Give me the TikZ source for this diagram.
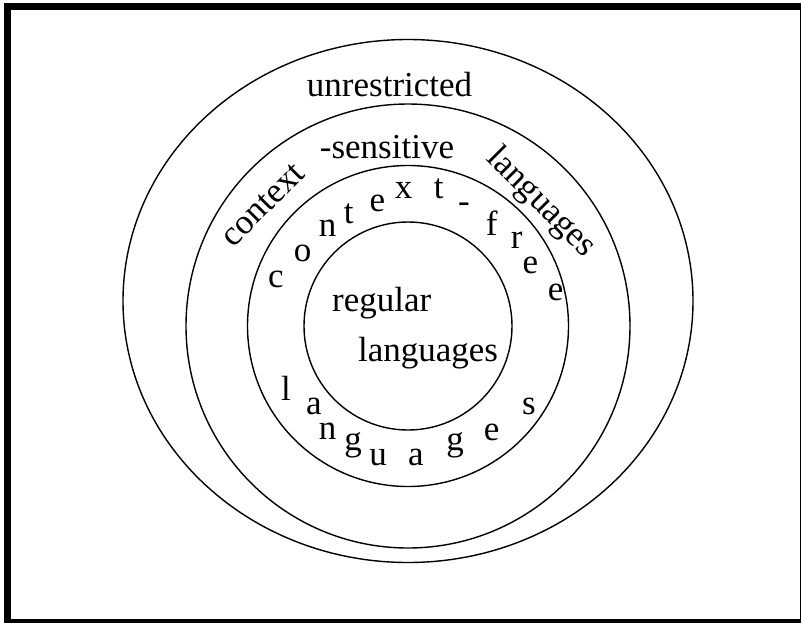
\documentclass[tikz,border=0pt]{standalone}
\usepackage{fontspec}
\setmainfont{Liberation Serif}
\usetikzlibrary{positioning}
\tikzset{
  ring/.style={line width=1.4pt},
  word/.style={font=\fontsize{35}{40}\selectfont, inner sep=0pt},
}

\begin{document}
\begin{tikzpicture}[x=1pt,y=-1pt]
\useasboundingbox (0,0) rectangle (801,622);
\draw[line width=7pt] (7.5,6.7) rectangle (803,622);

\coordinate (mid) at (408,326);
\draw[ring] (408,301) ellipse [x radius=285, y radius=261.5];
\draw[ring] (mid) circle [radius=222];
\draw[ring] (mid) circle [radius=160.5];
\draw[ring] (mid) circle [radius=104];

\node[word, anchor=base] (unrestricted) at (389.6,96) {unrestricted};
\node[word, anchor=base] (sensitive) at (387,158.3) {-sensitive};
\node[word, rotate=45] (context) at (263,205) {context};
\node[word, rotate=-45] (langcs) at (541,203) {languages};

% context-free, one letter at a time
\foreach \ch/\x/\y [count=\i] in {c/276/287, o/302.5/261.7, n/327.5/236.7, t/348.7/223,
    e/377.5/211.7, x/403.7/198, t/438.7/198, -/464/212, f/491.7/235, r/516.7/248,
    e/530.5/273, e/555.7/300}
  \node[word, anchor=base] (cf\i) at (\x,\y) {\ch};

\foreach \ch/\x/\y [count=\i] in {l/286/400, a/314/414, n/327.5/439, g/353/450,
    u/378/465, a/416/465, g/455/450, e/491.6/440, s/529/414}
  \node[word, anchor=base] (lang\i) at (\x,\y) {\ch};

\node[word, anchor=base] (regular) at (381.7,311.7) {regular};
\node[word, anchor=base] (langreg) at (428,361.7) {languages};

\end{tikzpicture}
\end{document}
